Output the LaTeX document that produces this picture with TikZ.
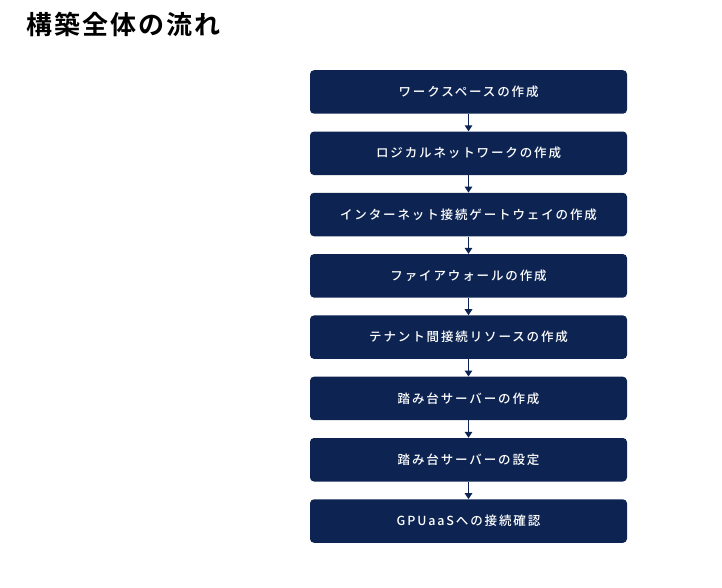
\documentclass[tikz,border=0pt]{standalone}
\usepackage{fontspec}
\setmainfont{Noto Sans CJK JP}
\newfontfamily\boxfont[LetterSpace=15,UprightFont={* Medium}]{Noto Sans CJK JP}
\newfontfamily\titlefont[LetterSpace=8,BoldFont={* Bold}]{Noto Sans CJK JP}
\usetikzlibrary{arrows.meta}
\definecolor{navy}{HTML}{0D2452}
\tikzset{
  stepbox/.style={fill=navy, rounded corners=4pt, minimum width=317pt, minimum height=43.5pt,
    inner sep=0pt, text=white, font=\boxfont\fontsize{12.5pt}{14pt}\selectfont, anchor=north},
  flow/.style={draw=navy, line width=1.5pt, -{Triangle[length=6pt,width=7.5pt]}, shorten >=0pt}
}
\begin{document}
\begin{tikzpicture}[x=1pt,y=-1pt]
\useasboundingbox (0,0) rectangle (722,587);
\node[anchor=west, inner sep=0pt, font=\titlefont\bfseries\fontsize{26pt}{28pt}\selectfont] (title) at (26,24) {構築全体の流れ};
\node[stepbox] (s1) at (468.5,70) {ワークスペースの作成};
\node[stepbox] (s2) at (468.5,131.3) {ロジカルネットワークの作成};
\node[stepbox] (s3) at (468.5,192.6) {インターネット接続ゲートウェイの作成};
\node[stepbox] (s4) at (468.5,253.9) {ファイアウォールの作成};
\node[stepbox] (s5) at (468.5,315.2) {テナント間接続リソースの作成};
\node[stepbox] (s6) at (468.5,376.5) {踏み台サーバーの作成};
\node[stepbox] (s7) at (468.5,437.8) {踏み台サーバーの設定};
\node[stepbox] (s8) at (468.5,499.1) {GPUaaSへの接続確認};
\foreach \a/\b in {s1/s2,s2/s3,s3/s4,s4/s5,s5/s6,s6/s7,s7/s8}
  \draw[flow] (\a.south) -- (\b.north);
\end{tikzpicture}
\end{document}
